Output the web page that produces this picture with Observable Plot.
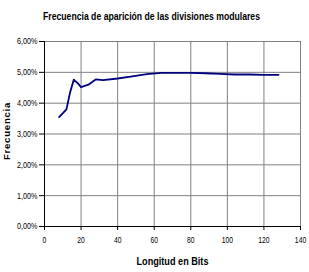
<!DOCTYPE html>
<html>
<head>
<meta charset="utf-8">
<script src="https://cdn.jsdelivr.net/npm/d3@7"></script>
<script src="https://cdn.jsdelivr.net/npm/@observablehq/plot@0.6"></script>
<style>
  html, body { margin: 0; padding: 0; background: #fff; }
</style>
</head>
<body>
<div id="chart"></div>
<script>
const title = "Frecuencia de aparición de las divisiones modulares";
const xLabel = "Longitud en Bits";
const yLabel = "Frecuencia";
const bits = [8, 12, 14, 16, 18, 20, 24, 28, 32, 40, 48, 56, 64, 72, 80, 88, 96, 104, 112, 120, 128];
const freq = [3.55, 3.80, 4.35, 4.76, 4.66, 4.52, 4.60, 4.77, 4.75, 4.80, 4.87, 4.94, 4.98, 4.98, 4.98, 4.97, 4.95, 4.93, 4.93, 4.92, 4.92];
const xTicks = [0, 20, 40, 60, 80, 100, 120, 140];
const yTicks = [0, 1, 2, 3, 4, 5, 6];

const data = bits.map((b, i) => ({bits: b, freq: freq[i]}));
const fmt = d => d.toFixed(2).replace(".", ",") + "%";
const font = "'Liberation Sans', Arial, sans-serif";

const chart = Plot.plot({
  width: 309,
  height: 272,
  marginLeft: 44,
  marginRight: 9,
  marginTop: 41,
  marginBottom: 46,
  style: {fontFamily: font, fontSize: "9px", color: "#000", background: "#fff"},
  x: {domain: [0, 140]},
  y: {domain: [0, 6]},
  marks: [
    Plot.gridX(xTicks, {stroke: "#808080", strokeOpacity: 1}),
    Plot.gridY(yTicks, {stroke: "#808080", strokeOpacity: 1}),
    Plot.frame({stroke: "#808080"}),
    Plot.ruleX([0], {stroke: "#000"}),
    Plot.ruleY([0], {stroke: "#000"}),
    Plot.axisY({ticks: yTicks, tickFormat: fmt, tickSize: 5, tickPadding: 2, label: null, fontSize: 9}),
    Plot.axisX({ticks: xTicks, tickSize: 4, tickPadding: 6, label: null, fontSize: 9}),
    Plot.line(data, {x: "bits", y: "freq", stroke: "#000080", strokeWidth: 1.8}),
    Plot.text([title], {text: d => d, frameAnchor: "top", dx: -21, dy: -29, fontSize: 10, fontWeight: "bold", fill: "#000"}),
    Plot.text([xLabel], {text: d => d, frameAnchor: "bottom", dy: 38, fontSize: 10, fontWeight: "bold", fill: "#000"}),
    Plot.text([yLabel], {text: d => d, frameAnchor: "left", textAnchor: "middle", dx: -38, dy: -3, rotate: -90, fontSize: 9.5, fontWeight: "bold", fill: "#000"})
  ]
});
document.getElementById("chart").appendChild(chart);

// condense text to mimic the narrow original font
const targets = new Map([[title, 217], [xLabel, 72]]);
const xTickText = new Set(xTicks.map(String));
d3.select(chart).selectAll("text").each(function() {
  const t = this.textContent;
  if (t === yLabel) { this.setAttribute("letter-spacing", "0.8"); return; }
  const len = this.getComputedTextLength();
  if (!(len > 0)) return;
  const target = targets.has(t) ? targets.get(t) : len * (xTickText.has(t) ? 0.75 : 0.8);
  this.setAttribute("textLength", target);
  this.setAttribute("lengthAdjust", "spacingAndGlyphs");
});
</script>
</body>
</html>
